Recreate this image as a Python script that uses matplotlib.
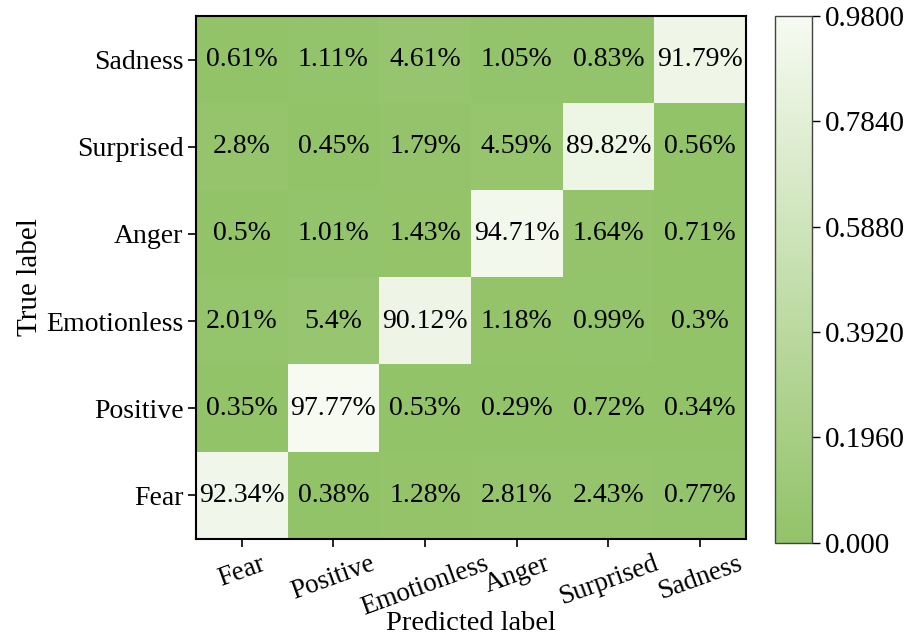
import numpy as np
import matplotlib
matplotlib.use("Agg")
from matplotlib import pyplot as plt
from matplotlib.colors import LinearSegmentedColormap

plt.rcParams['font.family'] = ['Liberation Serif', 'DejaVu Serif']

true_labels = ["Sadness", "Surprised", "Anger", "Emotionless", "Positive", "Fear"]
pred_labels = ["Fear", "Positive", "Emotionless", "Anger", "Surprised", "Sadness"]

# percent values, rows top to bottom as in the picture
row_sadness = [0.61, 1.11, 4.61, 1.05, 0.83, 91.79]
row_surprised = [2.8, 0.45, 1.79, 4.59, 89.82, 0.56]
row_anger = [0.5, 1.01, 1.43, 94.71, 1.64, 0.71]
row_emotionless = [2.01, 5.4, 90.12, 1.18, 0.99, 0.3]
row_positive = [0.35, 97.77, 0.53, 0.29, 0.72, 0.34]
row_fear = [92.34, 0.38, 1.28, 2.81, 2.43, 0.77]

cbar_ticks = [0.0, 0.196, 0.392, 0.588, 0.784, 0.98]
cbar_ticklabels = ["0.000", "0.1960", "0.3920", "0.5880", "0.7840", "0.9800"]

mat = np.array([row_sadness, row_surprised, row_anger,
                row_emotionless, row_positive, row_fear]) / 100.0

cmap = LinearSegmentedColormap.from_list("greens", ["#93c369", "#f6faf1"])

fig = plt.figure(figsize=(9.09, 6.40), dpi=100)
ax = fig.add_axes([0.2156, 0.158, 0.605, 0.817])
im = ax.imshow(mat, cmap=cmap, vmin=0, vmax=0.98, aspect='auto')

for i in range(mat.shape[0]):
    for j in range(mat.shape[1]):
        ax.text(j, i, f"{mat[i, j] * 100:g}%", ha='center', va='center',
                fontsize=20, color='black')

ax.set_xticks(range(len(pred_labels)))
ax.set_xticklabels(pred_labels, rotation=20, ha='center', fontsize=19.5)
ax.set_yticks(range(len(true_labels)))
ax.set_yticklabels(true_labels, fontsize=20)
ax.tick_params(length=6, width=1.2, color='black', pad=3)
for s in ax.spines.values():
    s.set_linewidth(1.5)
ax.set_xlabel("Predicted label", fontsize=20.5, labelpad=-7)
ax.set_ylabel("True label", fontsize=21, labelpad=2)

cax = fig.add_axes([0.8526, 0.152, 0.0407, 0.823])
cb = fig.colorbar(im, cax=cax)
cb.set_ticks(cbar_ticks)
cb.set_ticklabels(cbar_ticklabels)
cb.ax.tick_params(labelsize=21, length=6, width=1.0)
cb.outline.set_linewidth(1.0)
cb.outline.set_edgecolor('#444444')

fig.savefig("out.png", dpi=100)
